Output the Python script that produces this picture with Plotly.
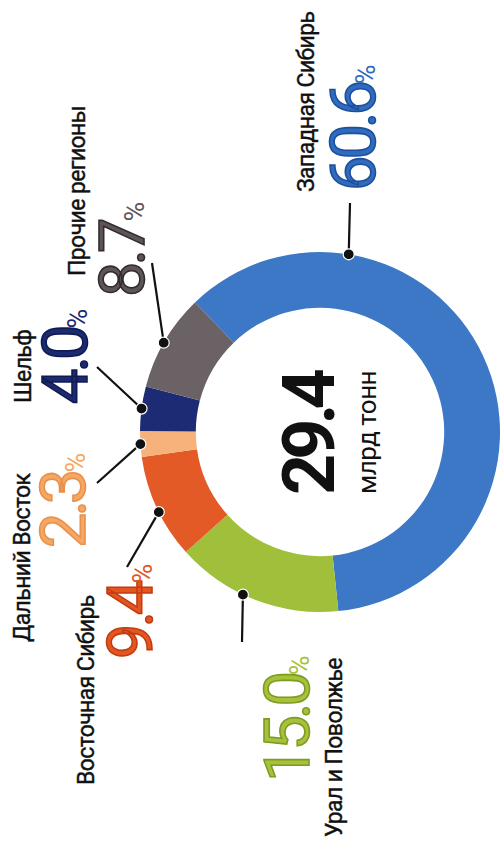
import math
import plotly.graph_objects as go

# ---------------- data ----------------
regions = ["Западная Сибирь", "Урал и Поволжье", "Восточная Сибирь",
           "Дальний Восток", "Шельф", "Прочие регионы"]
shares = [60.6, 15.0, 9.4, 2.3, 4.0, 8.7]
total_label = "29.4"
total_unit = "млрд тонн"

# ---------------- styles / layout ----------------
slice_colors = ["#3c78c5", "#a0bf3b", "#e45a26", "#f6b27a", "#1c2b74", "#6a6264"]
number_colors = ["#2f6cc0", "#a6c23a", "#e4561f", "#f5a863", "#1c2a70", "#5d5558"]
outline_colors = ["#1e4f9c", "#7f9b22", "#c23c12", "#e8914c", "#0f1a52", "#332c2e"]

W, H = 503, 844
CX, CY, R = 320, 432, 180
HOLE = 0.69
ROTATION = 316  # start angle (deg, clockwise from 12 o'clock)

FONT = "Roboto, sans-serif"

# callout placement (screen px): angle offset of dot from slice middle,
# leader end point, name centre, number centre
callouts = [
    dict(off=-55.9, end=(350, 203), name=(307, 102), num=(353, 128)),
    dict(off=4.2, end=(242, 642), name=(334, 748), num=(287, 719)),
    dict(off=-1.5, end=(127, 567), name=(86, 690), num=(130, 612)),
    dict(off=0.0, end=(97, 483), name=(22, 557), num=(63, 500)),
    dict(off=0.0, end=(97, 367), name=(23, 367), num=(65, 357)),
    dict(off=-0.6, end=(152, 263), name=(78, 191), num=(122, 250)),
]


def px(x):
    return x / W


def py(y):
    return 1 - y / H


fig = go.Figure()
fig.add_trace(go.Pie(
    labels=regions, values=shares, sort=False, direction="clockwise",
    rotation=ROTATION, hole=HOLE, textinfo="none", hoverinfo="label+percent",
    marker=dict(colors=slice_colors, line=dict(width=0)),
    showlegend=False,
    domain=dict(x=[px(CX - R), px(CX + R)], y=[py(CY + R), py(CY - R)]),
))

shapes = []
annotations = []
tot = sum(shares)
acc = 0.0
for i, v in enumerate(shares):
    mid = ROTATION + (acc + v / 2) / tot * 360
    acc += v
    c = callouts[i]
    th = math.radians(mid + c["off"])
    dx = CX + R * math.sin(th)
    dy = CY - R * math.cos(th)
    ex, ey = c["end"]
    shapes.append(dict(type="line", xref="paper", yref="paper",
                       x0=px(dx), y0=py(dy), x1=px(ex), y1=py(ey),
                       line=dict(color="#111111", width=2.2)))
    rd = 5.5
    shapes.append(dict(type="circle", xref="paper", yref="paper",
                       x0=px(dx - rd), x1=px(dx + rd), y0=py(dy + rd), y1=py(dy - rd),
                       fillcolor="#111111", line=dict(color="#ffffff", width=1.2)))
    nx, ny = c["name"]
    annotations.append(dict(x=px(nx), y=py(ny), xref="paper", yref="paper",
                            text=(f"<span style='letter-spacing:-0.6px; stroke:#111111; "
                                  f"stroke-width:0.4px'>{regions[i]}</span>"),
                            showarrow=False, textangle=-90,
                            xanchor="center", yanchor="middle",
                            font=dict(family=FONT, size=23, color="#111111")))
    mx, my = c["num"]
    oc = outline_colors[i]
    annotations.append(dict(x=px(mx), y=py(my), xref="paper", yref="paper",
                            text=(f"<span style='letter-spacing:-4px; stroke:{oc}; "
                                  f"stroke-width:1.6px'>{v:.1f}</span>"
                                  f"<span style='font-size:27px'>%</span>"),
                            showarrow=False, textangle=-90,
                            xanchor="center", yanchor="middle",
                            font=dict(family=FONT, size=63, color=number_colors[i],
                                      weight=400)))

annotations.append(dict(x=px(310), y=py(432), xref="paper", yref="paper",
                        text=f"<span style='letter-spacing:-6px'>{total_label}</span>",
                        showarrow=False, textangle=-90,
                        xanchor="center", yanchor="middle",
                        font=dict(family=FONT, size=72, color="#111111", weight=700)))
annotations.append(dict(x=px(367), y=py(433), xref="paper", yref="paper",
                        text=f"<span style='letter-spacing:-0.5px'>{total_unit}</span>",
                        showarrow=False, textangle=-90,
                        xanchor="center", yanchor="middle",
                        font=dict(family=FONT, size=26, color="#111111")))

fig.update_layout(
    width=W, height=H, autosize=False,
    margin=dict(l=0, r=0, t=0, b=0),
    paper_bgcolor="#ffffff", plot_bgcolor="#ffffff",
    shapes=shapes, annotations=annotations,
)

fig.write_html("out.html")
